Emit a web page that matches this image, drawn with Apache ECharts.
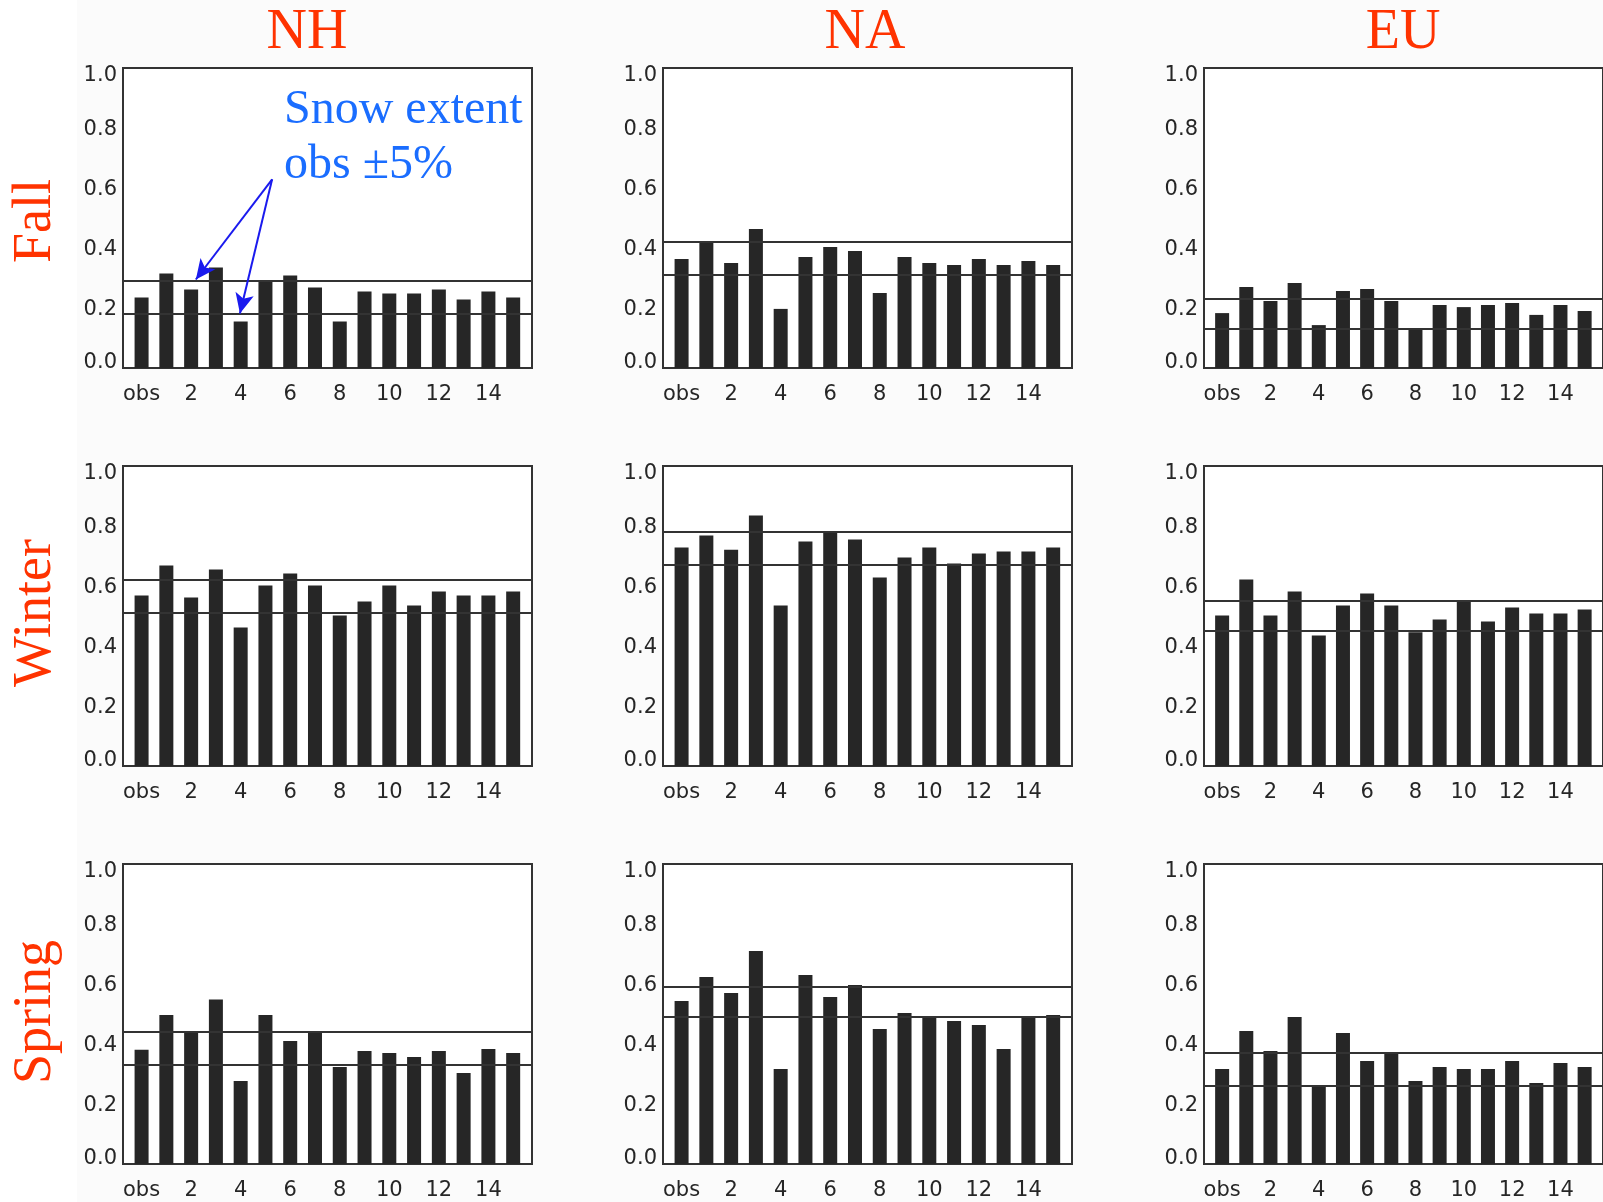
<!DOCTYPE html>
<html>
<head>
<meta charset="utf-8">
<script src="https://cdn.jsdelivr.net/npm/echarts@6/dist/echarts.min.js"></script>
<style>
html,body{margin:0;padding:0;background:#ffffff;}
#chart{width:1603px;height:1202px;}
</style>
</head>
<body>
<div id="chart"></div>
<script>
// ---- data ----
var models = ['obs','1','2','3','4','5','6','7','8','9','10','11','12','13','14','15'];
var xTickLabels = ['obs','2','4','6','8','10','12','14'];
var yTickLabels = ['0.0','0.2','0.4','0.6','0.8','1.0'];
var regions = ['NH','NA','EU'];
var seasons = ['Fall','Winter','Spring'];

var nhFall   = [0.235,0.315,0.262,0.335,0.155,0.288,0.308,0.268,0.155,0.255,0.248,0.248,0.262,0.228,0.255,0.235];
var naFall   = [0.363,0.417,0.350,0.463,0.197,0.370,0.403,0.390,0.250,0.370,0.350,0.343,0.363,0.343,0.357,0.343];
var euFall   = [0.183,0.270,0.223,0.283,0.143,0.257,0.263,0.223,0.128,0.210,0.203,0.210,0.217,0.177,0.210,0.190];
var nhWinter = [0.568,0.668,0.562,0.655,0.462,0.602,0.642,0.602,0.502,0.548,0.602,0.535,0.582,0.568,0.568,0.582];
var naWinter = [0.728,0.768,0.721,0.835,0.535,0.748,0.781,0.755,0.628,0.695,0.728,0.675,0.708,0.715,0.715,0.728];
var euWinter = [0.502,0.622,0.502,0.582,0.435,0.535,0.575,0.535,0.446,0.488,0.553,0.482,0.528,0.508,0.508,0.522];
var nhSpring = [0.381,0.497,0.437,0.548,0.277,0.497,0.410,0.437,0.323,0.377,0.370,0.357,0.377,0.303,0.383,0.370];
var naSpring = [0.543,0.623,0.570,0.710,0.317,0.630,0.557,0.597,0.450,0.503,0.490,0.477,0.463,0.383,0.490,0.497];
var euSpring = [0.317,0.443,0.377,0.490,0.259,0.437,0.343,0.370,0.277,0.323,0.317,0.317,0.343,0.270,0.337,0.323];

// obs +5% / -5% reference lines (upper, lower)
var nhFallBand   = [0.290,0.182];
var naFallBand   = [0.417,0.313];
var euFallBand   = [0.233,0.128];
var nhWinterBand = [0.619,0.512];
var naWinterBand = [0.781,0.673];
var euWinterBand = [0.552,0.446];
var nhSpringBand = [0.436,0.332];
var naSpringBand = [0.593,0.486];
var euSpringBand = [0.367,0.260];

// annotation arrows (data coords in NH Fall panel): [start, tip]
var arrowStart = [5.27, 0.629];
var arrowTips = [[2.19, 0.295],[3.97, 0.182]];
var annotationText = 'Snow extent\nobs \u00b15%';

var panelValues = [
  [nhFall, naFall, euFall],
  [nhWinter, naWinter, euWinter],
  [nhSpring, naSpring, euSpring]
];
var panelBands = [
  [nhFallBand, naFallBand, euFallBand],
  [nhWinterBand, naWinterBand, euWinterBand],
  [nhSpringBand, naSpringBand, euSpringBand]
];

// ---- layout ----
var colLeft = [123, 663, 1204];
var rowTop = [68, 466, 864];
var plotW = 409, plotH = 300;
var tickFont = 'DejaVu Sans';
var tickSize = 21;
var tickColor = '#262626';
var serif = 'Liberation Serif';
var red = '#ff3300';

var xTickPos = xTickLabels.map(function(l){ return models.indexOf(l); });

var grids = [], xAxes = [], yAxes = [], series = [];
for (var r = 0; r < 3; r++) {
  for (var c = 0; c < 3; c++) {
    var idx = grids.length;
    grids.push({
      left: colLeft[c], top: rowTop[r], width: plotW, height: plotH,
      show: true, borderColor: '#333333', borderWidth: 2, backgroundColor: '#ffffff'
    });
    xAxes.push({
      gridIndex: idx, type: 'value', min: -0.75, max: 15.76,
      axisLine: {show: false}, axisTick: {show: false}, splitLine: {show: false},
      axisLabel: {
        customValues: xTickPos,
        formatter: function(v){ return models[Math.round(v)]; },
        fontFamily: tickFont, fontSize: tickSize, color: tickColor, margin: 16
      }
    });
    yAxes.push({
      gridIndex: idx, type: 'value', min: 0, max: 1, interval: 0.2,
      axisLine: {show: false}, axisTick: {show: false}, splitLine: {show: false},
      axisLabel: {
        margin: 6,
        formatter: function(v){
          var i = Math.round(v * 5);
          var t = yTickLabels[i];
          if (i === 0) return '{lo|' + t + '}';
          if (i === 5) return '{hi|' + t + '}';
          return '{n|' + t + '}';
        },
        rich: {
          lo: {fontFamily: tickFont, fontSize: tickSize, color: tickColor, padding: [0,0,10,0]},
          hi: {fontFamily: tickFont, fontSize: tickSize, color: tickColor, padding: [15,0,0,0]},
          n:  {fontFamily: tickFont, fontSize: tickSize, color: tickColor, padding: [4,0,0,0]}
        }
      }
    });
    var vals = panelValues[r][c];
    var band = panelBands[r][c];
    var mlData = [{yAxis: band[0]}, {yAxis: band[1]}];
    if (r === 0 && c === 0) {
      arrowTips.forEach(function(tip){
        mlData.push([
          {coord: arrowStart, symbol: 'none', lineStyle: {color: '#1a1aee', width: 2, type: 'solid'}},
          {coord: tip, symbol: 'arrow', symbolSize: [14, 20], lineStyle: {color: '#1a1aee', width: 2, type: 'solid'}}
        ]);
      });
    }
    series.push({
      type: 'bar', xAxisIndex: idx, yAxisIndex: idx,
      data: vals.map(function(v, k){ return [k, v]; }),
      barWidth: 14,
      itemStyle: {color: '#262626'},
      silent: true,
      markLine: {
        silent: true, symbol: ['none','none'], animation: false,
        label: {show: false},
        lineStyle: {color: '#333333', width: 2, type: 'solid'},
        emphasis: {disabled: true},
        data: mlData
      }
    });
  }
}

var titleX = [307, 865, 1403];
var rowLabelY = [221, 613, 1012];
var graphics = [
  {type: 'rect', z: -10, silent: true, shape: {x: 77, y: 0, width: 1600, height: 1210}, style: {fill: '#fbfbfb'}}
];
regions.forEach(function(t, i){
  graphics.push({type: 'text', x: titleX[i], y: 33, silent: true,
    style: {text: t, fontFamily: serif, fontSize: 56, fill: red, align: 'center', verticalAlign: 'middle', textAlign: 'center', textVerticalAlign: 'middle'}});
});
seasons.forEach(function(t, i){
  graphics.push({type: 'text', x: 36, y: rowLabelY[i], rotation: Math.PI / 2, silent: true,
    style: {text: t, fontFamily: serif, fontSize: 54, fill: red, align: 'center', verticalAlign: 'middle', textAlign: 'center', textVerticalAlign: 'middle'}});
});
graphics.push({type: 'text', x: 284, y: 83, silent: true,
  style: {text: annotationText, fontFamily: serif, fontSize: 48, lineHeight: 55, fill: '#1a6dff', align: 'left', verticalAlign: 'top', textAlign: 'left', textVerticalAlign: 'top'}});

var chart = echarts.init(document.getElementById('chart'), null, {renderer: 'canvas'});
chart.setOption({
  backgroundColor: '#ffffff',
  animation: false,
  grid: grids,
  xAxis: xAxes,
  yAxis: yAxes,
  series: series,
  graphic: {elements: graphics}
});
</script>
</body>
</html>
